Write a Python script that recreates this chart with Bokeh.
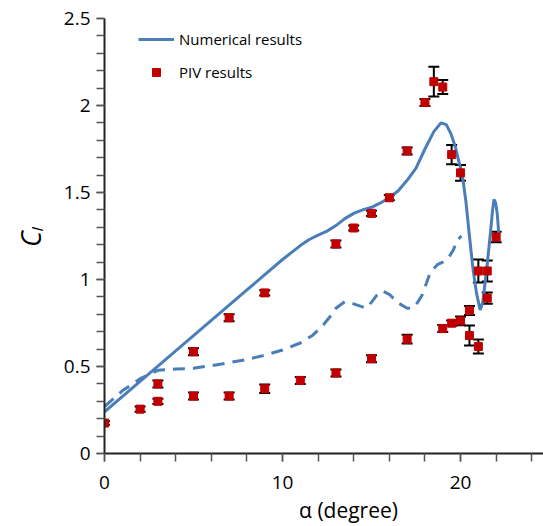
from bokeh.plotting import figure
from bokeh.models import (Range1d, SingleIntervalTicker, Whisker, TeeHead, ColumnDataSource,
                          Legend, LegendItem, CustomJSTickFormatter)
from bokeh.embed import file_html
from bokeh.resources import INLINE

# Numerical results (solid)
num_x = [0, 2, 4, 6, 8, 10, 11, 11.5, 12, 12.5, 13, 13.5, 14, 14.5, 15, 15.5, 16, 16.5, 17, 17.5,
         18, 18.5, 18.9, 19.2, 19.45, 19.7, 19.9, 20.1, 20.3, 20.5, 20.7, 20.9, 21.1, 21.25, 21.4,
         21.55, 21.7, 21.8, 21.88, 21.97, 22.06, 22.15]
num_y = [0.24, 0.415, 0.59, 0.765, 0.94, 1.115, 1.195, 1.23, 1.255, 1.278, 1.31, 1.35, 1.38, 1.40,
         1.415, 1.44, 1.47, 1.51, 1.57, 1.64, 1.75, 1.85, 1.90, 1.89, 1.84, 1.765, 1.68, 1.60, 1.45,
         1.25, 1.06, 0.92, 0.825, 0.87, 1.0, 1.14, 1.29, 1.40, 1.46, 1.44, 1.38, 1.26]

# Numerical results (dashed)
dash_x = [0, 1, 2, 3, 4, 5, 6, 7, 8, 9, 10, 11, 11.7, 12.3, 12.7, 13.0, 13.5, 14.0, 14.7, 15.0, 15.3,
          15.6, 16.0, 16.5, 17.0, 17.3, 17.6, 17.85, 18.05, 18.3, 18.7, 19.0, 19.35, 19.6, 19.8, 20.05]
dash_y = [0.27, 0.36, 0.43, 0.478, 0.485, 0.49, 0.505, 0.522, 0.54, 0.565, 0.595, 0.635, 0.68, 0.74,
          0.79, 0.835, 0.873, 0.86, 0.835, 0.87, 0.91, 0.935, 0.915, 0.865, 0.835, 0.835, 0.87, 0.912,
          0.97, 1.04, 1.085, 1.10, 1.13, 1.17, 1.225, 1.25]

# PIV results
piv_x = [0, 2, 3, 3, 5, 5, 7, 7, 9, 9, 11, 13, 13, 14, 15, 15, 16, 17, 17, 18, 18.5, 19, 19,
         19.5, 19.5, 20, 20, 20.5, 20.5, 21, 21, 21.5, 21.5, 22]
piv_y = [0.175, 0.255, 0.30, 0.40, 0.33, 0.585, 0.33, 0.78, 0.372, 0.923, 0.42, 0.463, 1.204, 1.296,
         0.545, 1.38, 1.47, 0.657, 1.739, 2.017, 2.137, 2.106, 0.718, 1.718, 0.749, 1.613, 0.762,
         0.822, 0.678, 1.049, 0.615, 1.049, 0.893, 1.244]
piv_err = [0.01, 0.015, 0.015, 0.02, 0.02, 0.02, 0.02, 0.02, 0.025, 0.015, 0.02, 0.02, 0.02, 0.015,
           0.02, 0.015, 0.015, 0.025, 0.02, 0.02, 0.085, 0.04, 0.02, 0.055, 0.015, 0.045, 0.025,
           0.026, 0.057, 0.066, 0.04, 0.06, 0.033, 0.03]

FONT = "Open Sans"
BLUE = "#4A7EBB"
RED = "#C00000"

p = figure(width=543, height=526, output_backend="svg", toolbar_location=None,
           x_range=Range1d(0, 24.66), y_range=Range1d(0, 2.5),
           min_border_left=104, min_border_right=0, min_border_top=18, min_border_bottom=72)
p.outline_line_color = None
p.xgrid.visible = False
p.ygrid.visible = False

src = ColumnDataSource(dict(x=piv_x, y=piv_y,
                            lo=[a - b for a, b in zip(piv_y, piv_err)],
                            hi=[a + b for a, b in zip(piv_y, piv_err)]))

l1 = p.line(num_x, num_y, line_color=BLUE, line_width=3)
p.line(dash_x, dash_y, line_color=BLUE, line_width=3, line_dash="12 8")

wh = Whisker(source=src, base="x", upper="hi", lower="lo", line_color="black", line_width=2,
             upper_head=TeeHead(size=11, line_width=2, line_color="black"),
             lower_head=TeeHead(size=11, line_width=2, line_color="black"))
p.add_layout(wh)
sc = p.scatter("x", "y", source=src, marker="square", size=8, fill_color=RED, line_color=RED)

legend = Legend(items=[LegendItem(label="Numerical results", renderers=[l1]),
                       LegendItem(label="PIV results", renderers=[sc])],
                location=(34, 371), orientation="vertical",
                glyph_width=36, glyph_height=20, label_standoff=5, spacing=13, padding=0,
                background_fill_alpha=0, border_line_color=None,
                label_text_font=FONT, label_text_font_size="15px", label_text_color="black")
p.add_layout(legend)

# axes
p.xaxis.ticker = SingleIntervalTicker(interval=10, num_minor_ticks=5)
p.yaxis.ticker = SingleIntervalTicker(interval=0.5, num_minor_ticks=5)
p.yaxis.formatter = CustomJSTickFormatter(code="return String(Math.round(tick*10)/10);")
for ax in (p.xaxis, p.yaxis):
    ax.axis_line_width = 2
    ax.axis_line_color = "#222222"
    ax.major_tick_in = 0
    ax.minor_tick_in = 0
    ax.major_tick_out = 8
    ax.minor_tick_out = 8
    ax.major_tick_line_color = "#555555"
    ax.minor_tick_line_color = "#555555"
    ax.major_tick_line_width = 1.5
    ax.minor_tick_line_width = 1.5
    ax.major_label_text_font = FONT
    ax.major_label_text_font_size = "19px"
    ax.major_label_text_color = "black"
    ax.major_label_standoff = 6
p.xaxis.major_label_standoff = 14

p.yaxis.axis_label = "Cₗ"
p.yaxis.axis_label_text_font = FONT
p.yaxis.axis_label_text_font_style = "italic"
p.yaxis.axis_label_text_font_size = "27px"
p.yaxis.axis_label_text_color = "black"
p.yaxis.axis_label_standoff = 12

p.xaxis.axis_label = "\u00a0" * 9 + "α (degree)"
p.xaxis.axis_label_text_font = FONT
p.xaxis.axis_label_text_font_style = "normal"
p.xaxis.axis_label_text_font_size = "21px"
p.xaxis.axis_label_text_color = "black"
p.xaxis.axis_label_standoff = 4

open("out.html", "w").write(file_html(p, INLINE))
